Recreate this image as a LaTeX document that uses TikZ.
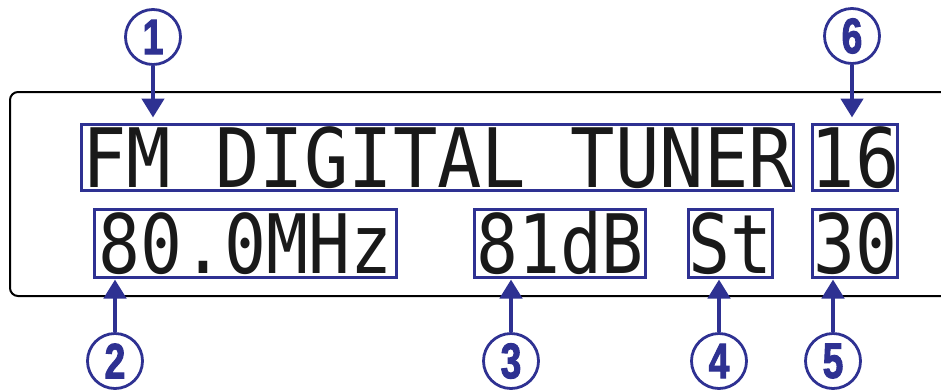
\documentclass[tikz,border=0pt]{standalone}
\usepackage{fontspec}
\usepackage{xcolor}
\usepackage{tikz}
\usetikzlibrary{positioning,arrows.meta,calc}
\definecolor{dispblue}{RGB}{46,49,146}
\newfontfamily\lcdfonttop[FakeStretch=0.90]{DejaVu Sans Mono}
\newfontfamily\lcdfontbot[FakeStretch=0.85]{DejaVu Sans Mono}
\newfontfamily\calloutfont[FakeStretch=0.74,FakeBold=2]{Liberation Sans}
\tikzset{
  lcdbox/.style={rectangle,draw=dispblue,line width=3pt,inner xsep=-4pt,text height=60pt,text depth=0pt,text=black!90},
  toprow/.style={lcdbox,inner ysep=3pt,minimum height=66pt,font=\lcdfonttop\fontsize{82}{82}\selectfont},
  botrow/.style={lcdbox,inner ysep=4pt,minimum height=68pt,font=\lcdfontbot\fontsize{82}{82}\selectfont},
  callout/.style={circle,draw=dispblue,line width=2.8pt,minimum size=55pt,inner sep=0pt,text=dispblue,font=\calloutfont\bfseries\fontsize{50}{50}\selectfont},
  pointer/.style={draw=dispblue,line width=4.5pt,-{Triangle[width=22pt,length=19pt]}},
  panel/.style={draw=black,line width=2pt,rounded corners=8pt}
}
\begin{document}
\begin{tikzpicture}[x=1pt,y=-1pt]
  \useasboundingbox (0,0) rectangle (941,389);

  % front panel, open to the right
  \draw[panel] (941,92) -- (10,92) -- (10,296) -- (941,296);

  \node[toprow, minimum width=712pt] (infoline) at (437.5,157) {FM DIGITAL TUNER};
  \node[toprow, minimum width=85pt] (presetno) at (855,157) {16};
  \node[botrow, minimum width=302pt] (freqdisp) at (245.5,243) {80.0MHz};
  \node[botrow, minimum width=171pt] (leveldisp) at (560,243) {81dB};
  \node[botrow, minimum width=84pt] (stdisp) at (730.5,243) {St};
  \node[botrow, minimum width=85pt] (chdisp) at (855,243) {30};

  \node[callout] (n1) at (153,37) {1};
  \node[callout] (n6) at (852,36) {6};
  \node[callout] (n2) at (115,361) {2};
  \node[callout] (n3) at (511,361) {3};
  \node[callout] (n4) at (719,361) {4};
  \node[callout] (n5) at (833,361) {5};

  \draw[pointer,shorten >=5pt] (n1.south) -- (n1.south |- infoline.north);
  \draw[pointer,shorten >=5pt] (n6.south) -- (n6.south |- presetno.north);
  \draw[pointer,shorten >=1pt] (n2.north) -- (n2.north |- freqdisp.south);
  \draw[pointer,shorten >=1pt] (n3.north) -- (n3.north |- leveldisp.south);
  \draw[pointer,shorten >=1pt] (n4.north) -- (n4.north |- stdisp.south);
  \draw[pointer,shorten >=1pt] (n5.north) -- (n5.north |- chdisp.south);
\end{tikzpicture}
\end{document}
